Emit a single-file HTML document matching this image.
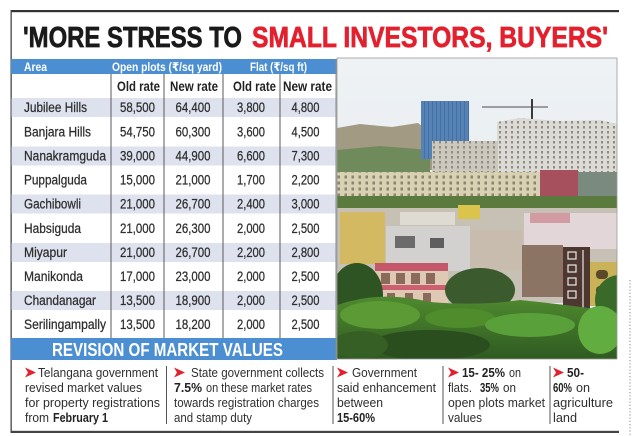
<!DOCTYPE html>
<html><head><meta charset="utf-8"><style>
html,body{margin:0;padding:0;background:#fff;}
svg{display:block;}
text{font-family:"Liberation Sans","DejaVu Sans",sans-serif;}
.t{font-weight:bold;font-size:29px;}
.hd{font-weight:bold;font-size:12px;fill:#fff;}
.sh{font-weight:bold;font-size:13.5px;fill:#222;}
.ar{font-size:13.5px;fill:#2e2e2e;stroke:#2e2e2e;stroke-width:0.25;}
.nm{font-size:13.5px;fill:#2e2e2e;text-anchor:middle;stroke:#2e2e2e;stroke-width:0.25;}
.bt{font-size:13px;fill:#2e2e2e;}
.bb{font-size:13px;fill:#222;font-weight:bold;}
</style></head><body>
<svg width="635" height="436" viewBox="0 0 635 436" xmlns="http://www.w3.org/2000/svg">
<defs>
  <linearGradient id="sky" x1="0" y1="0" x2="0" y2="1">
    <stop offset="0" stop-color="#eef2f5"/><stop offset="1" stop-color="#e2e8ec"/>
  </linearGradient>
  <linearGradient id="grass" x1="0" y1="0" x2="0" y2="1">
    <stop offset="0" stop-color="#4f8a2e"/><stop offset="1" stop-color="#2f5a22"/>
  </linearGradient>
  <pattern id="win" width="6" height="5" patternUnits="userSpaceOnUse">
    <rect width="6" height="5" fill="none"/>
    <rect x="1" y="1" width="2" height="2.5" fill="#8f8c86"/>
  </pattern>
  <pattern id="win2" width="7" height="6" patternUnits="userSpaceOnUse">
    <rect x="1.5" y="1.5" width="2.5" height="3" fill="#8a8470"/>
  </pattern>
  <pattern id="blue" width="4" height="4" patternUnits="userSpaceOnUse">
    <rect width="4" height="4" fill="#5583b7"/>
    <rect x="0" width="1" height="4" fill="#46709f"/>
  </pattern>
  <clipPath id="ph"><rect x="337" y="58" width="280" height="301"/></clipPath>
</defs>

<!-- frame -->
<rect x="11" y="10" width="608" height="2.2" fill="#333"/>
<rect x="10.5" y="10" width="1.3" height="423" fill="#444"/>
<rect x="11" y="430.8" width="608" height="2.2" fill="#444"/>
<line x1="630" y1="280" x2="630" y2="436" stroke="#8a8a8a" stroke-width="1" stroke-dasharray="1.2,2"/>

<!-- title -->
<text class="t" x="23" y="47" textLength="219" lengthAdjust="spacingAndGlyphs" fill="#1a1a1a" stroke="#1a1a1a" stroke-width="0.7">'MORE STRESS TO</text>
<text class="t" x="252" y="47" textLength="356" lengthAdjust="spacingAndGlyphs" fill="#e2202e" stroke="#e2202e" stroke-width="0.7">SMALL INVESTORS, BUYERS'</text>

<!-- table header -->
<rect x="11" y="59" width="326" height="15" fill="#4b8ed1"/>
<text class="hd" x="24" y="71" textLength="23" lengthAdjust="spacingAndGlyphs">Area</text>
<text class="hd" x="112" y="71" textLength="110" lengthAdjust="spacingAndGlyphs">Open plots (₹/sq yard)</text>
<text class="hd" x="250" y="71" textLength="57" lengthAdjust="spacingAndGlyphs">Flat (₹/sq ft)</text>

<text class="sh" x="117" y="91" textLength="43" lengthAdjust="spacingAndGlyphs">Old rate</text>
<text class="sh" x="170" y="91" textLength="48" lengthAdjust="spacingAndGlyphs">New rate</text>
<text class="sh" x="233" y="91" textLength="43" lengthAdjust="spacingAndGlyphs">Old rate</text>
<text class="sh" x="283" y="91" textLength="49" lengthAdjust="spacingAndGlyphs">New rate</text>

<!-- shaded bands -->
<rect x="11.5" y="98" width="324" height="19" fill="#dde2ee"/>
<rect x="11.5" y="146.5" width="324" height="19" fill="#dde2ee"/>
<rect x="11.5" y="194.5" width="324" height="19" fill="#dde2ee"/>
<rect x="11.5" y="243" width="324" height="19" fill="#dde2ee"/>
<rect x="11.5" y="291" width="324" height="19" fill="#dde2ee"/>

<!-- column lines -->
<g stroke="#5a5a5a" stroke-width="1">
<line x1="111" y1="74" x2="111" y2="338"/>
<line x1="164" y1="74" x2="164" y2="338"/>
<line x1="223" y1="74" x2="223" y2="338"/>
<line x1="280" y1="74" x2="280" y2="338"/>
</g>

<!-- rows -->
<text class="ar" x="24" y="112" textLength="63" lengthAdjust="spacingAndGlyphs">Jubilee Hills</text>
<text class="nm" x="137.5" y="112" textLength="35" lengthAdjust="spacingAndGlyphs">58,500</text>
<text class="nm" x="193" y="112" textLength="35" lengthAdjust="spacingAndGlyphs">64,400</text>
<text class="nm" x="251" y="112" textLength="28" lengthAdjust="spacingAndGlyphs">3,800</text>
<text class="nm" x="305.5" y="112" textLength="28" lengthAdjust="spacingAndGlyphs">4,800</text>

<text class="ar" x="24" y="136.5" textLength="67" lengthAdjust="spacingAndGlyphs">Banjara Hills</text>
<text class="nm" x="137.5" y="136.5" textLength="35" lengthAdjust="spacingAndGlyphs">54,750</text>
<text class="nm" x="193" y="136.5" textLength="35" lengthAdjust="spacingAndGlyphs">60,300</text>
<text class="nm" x="251" y="136.5" textLength="28" lengthAdjust="spacingAndGlyphs">3,600</text>
<text class="nm" x="305.5" y="136.5" textLength="28" lengthAdjust="spacingAndGlyphs">4,500</text>

<text class="ar" x="24" y="160.5" textLength="82" lengthAdjust="spacingAndGlyphs">Nanakramguda</text>
<text class="nm" x="137.5" y="160.5" textLength="35" lengthAdjust="spacingAndGlyphs">39,000</text>
<text class="nm" x="193" y="160.5" textLength="35" lengthAdjust="spacingAndGlyphs">44,900</text>
<text class="nm" x="251" y="160.5" textLength="28" lengthAdjust="spacingAndGlyphs">6,600</text>
<text class="nm" x="305.5" y="160.5" textLength="28" lengthAdjust="spacingAndGlyphs">7,300</text>

<text class="ar" x="24" y="184.5" textLength="63" lengthAdjust="spacingAndGlyphs">Puppalguda</text>
<text class="nm" x="137.5" y="184.5" textLength="35" lengthAdjust="spacingAndGlyphs">15,000</text>
<text class="nm" x="193" y="184.5" textLength="35" lengthAdjust="spacingAndGlyphs">21,000</text>
<text class="nm" x="251" y="184.5" textLength="28" lengthAdjust="spacingAndGlyphs">1,700</text>
<text class="nm" x="305.5" y="184.5" textLength="28" lengthAdjust="spacingAndGlyphs">2,200</text>

<text class="ar" x="24" y="208.5" textLength="57" lengthAdjust="spacingAndGlyphs">Gachibowli</text>
<text class="nm" x="137.5" y="208.5" textLength="35" lengthAdjust="spacingAndGlyphs">21,000</text>
<text class="nm" x="193" y="208.5" textLength="35" lengthAdjust="spacingAndGlyphs">26,700</text>
<text class="nm" x="251" y="208.5" textLength="28" lengthAdjust="spacingAndGlyphs">2,400</text>
<text class="nm" x="305.5" y="208.5" textLength="28" lengthAdjust="spacingAndGlyphs">3,000</text>

<text class="ar" x="24" y="233" textLength="57" lengthAdjust="spacingAndGlyphs">Habsiguda</text>
<text class="nm" x="137.5" y="233" textLength="35" lengthAdjust="spacingAndGlyphs">21,000</text>
<text class="nm" x="193" y="233" textLength="35" lengthAdjust="spacingAndGlyphs">26,300</text>
<text class="nm" x="251" y="233" textLength="28" lengthAdjust="spacingAndGlyphs">2,000</text>
<text class="nm" x="305.5" y="233" textLength="28" lengthAdjust="spacingAndGlyphs">2,500</text>

<text class="ar" x="24" y="257" textLength="43" lengthAdjust="spacingAndGlyphs">Miyapur</text>
<text class="nm" x="137.5" y="257" textLength="35" lengthAdjust="spacingAndGlyphs">21,000</text>
<text class="nm" x="193" y="257" textLength="35" lengthAdjust="spacingAndGlyphs">26,700</text>
<text class="nm" x="251" y="257" textLength="28" lengthAdjust="spacingAndGlyphs">2,200</text>
<text class="nm" x="305.5" y="257" textLength="28" lengthAdjust="spacingAndGlyphs">2,800</text>

<text class="ar" x="24" y="281" textLength="59" lengthAdjust="spacingAndGlyphs">Manikonda</text>
<text class="nm" x="137.5" y="281" textLength="35" lengthAdjust="spacingAndGlyphs">17,000</text>
<text class="nm" x="193" y="281" textLength="35" lengthAdjust="spacingAndGlyphs">23,000</text>
<text class="nm" x="251" y="281" textLength="28" lengthAdjust="spacingAndGlyphs">2,000</text>
<text class="nm" x="305.5" y="281" textLength="28" lengthAdjust="spacingAndGlyphs">2,500</text>

<text class="ar" x="24" y="305" textLength="72" lengthAdjust="spacingAndGlyphs">Chandanagar</text>
<text class="nm" x="137.5" y="305" textLength="35" lengthAdjust="spacingAndGlyphs">13,500</text>
<text class="nm" x="193" y="305" textLength="35" lengthAdjust="spacingAndGlyphs">18,900</text>
<text class="nm" x="251" y="305" textLength="28" lengthAdjust="spacingAndGlyphs">2,000</text>
<text class="nm" x="305.5" y="305" textLength="28" lengthAdjust="spacingAndGlyphs">2,500</text>

<text class="ar" x="24" y="329" textLength="82" lengthAdjust="spacingAndGlyphs">Serilingampally</text>
<text class="nm" x="137.5" y="329" textLength="35" lengthAdjust="spacingAndGlyphs">13,500</text>
<text class="nm" x="193" y="329" textLength="35" lengthAdjust="spacingAndGlyphs">18,200</text>
<text class="nm" x="251" y="329" textLength="28" lengthAdjust="spacingAndGlyphs">2,000</text>
<text class="nm" x="305.5" y="329" textLength="28" lengthAdjust="spacingAndGlyphs">2,500</text>

<!-- bottom blue bar -->
<rect x="11" y="338" width="326" height="22" fill="#4b8ed1"/>
<text x="52" y="356" font-size="18" font-weight="bold" fill="#fff" textLength="231" lengthAdjust="spacingAndGlyphs">REVISION OF MARKET VALUES</text>

<!-- photo -->
<g clip-path="url(#ph)">
  <rect x="337" y="58" width="280" height="301" fill="url(#sky)"/>
  <!-- hills -->
  <polygon points="337,128 360,124 392,127 418,123 440,140 440,170 337,170" fill="#a29a82"/>
  <polygon points="337,150 380,146 430,150 430,172 337,172" fill="#6f8b5c"/>
  <polygon points="590,150 617,146 617,175 590,175" fill="#6d6e66"/>
  <!-- blue tower -->
  <rect x="421" y="101" width="48" height="58" fill="url(#blue)"/>
  <!-- crane -->
  <line x1="482" y1="107" x2="548" y2="107" stroke="#4a4a4a" stroke-width="1"/>
  <line x1="532" y1="99" x2="532" y2="120" stroke="#3a3a3a" stroke-width="2"/>
  <!-- white tall block -->
  <polygon points="497,122 520,118 560,121 600,120 617,124 617,173 497,173" fill="#dcdad4"/>
  <polygon points="497,122 520,118 560,121 600,120 617,124 617,173 497,173" fill="url(#win)"/>
  <!-- mid buildings -->
  <rect x="432" y="141" width="66" height="35" fill="#cdc8be"/>
  <rect x="432" y="141" width="66" height="35" fill="url(#win)"/>
  <!-- lower cream row -->
  <rect x="337" y="172" width="206" height="27" fill="#d8d1b2"/>
  <rect x="337" y="172" width="206" height="27" fill="url(#win2)"/>
  <rect x="540" y="170" width="38" height="28" fill="#a6505d"/>
  <rect x="578" y="172" width="39" height="28" fill="#7b8a7e"/>
  <!-- green strip -->
  <rect x="337" y="196" width="280" height="16" fill="#5a7a3e"/>
  <!-- houses -->
  <rect x="337" y="208" width="280" height="95" fill="#c6c0b5"/>
  <rect x="340" y="212" width="45" height="52" fill="#d3b962"/>
  <rect x="386" y="226" width="84" height="45" fill="#d2d1cf"/>
  <rect x="395" y="236" width="20" height="12" fill="#6b6b6b"/>
  <rect x="430" y="238" width="14" height="10" fill="#5e5e5e"/>
  <rect x="458" y="205" width="22" height="14" fill="#dbc44c"/>
  <rect x="400" y="212" width="55" height="13" fill="#dedbd2"/>
  <rect x="470" y="230" width="52" height="40" fill="#c8bcae"/>
  <rect x="524" y="213" width="93" height="36" fill="#e2d6d8"/>
  <rect x="530" y="213" width="40" height="10" fill="#d29aa2"/>
  <rect x="522" y="245" width="41" height="52" fill="#8c7465"/>
  <rect x="563" y="247" width="27" height="68" fill="#4e3731"/>
  <g stroke="#e8e8e8" stroke-width="1.2" fill="none">
    <rect x="568" y="252" width="8" height="7"/><rect x="568" y="265" width="8" height="7"/>
    <rect x="568" y="278" width="8" height="7"/><rect x="568" y="291" width="8" height="7"/>
    <line x1="583" y1="250" x2="583" y2="312"/>
  </g>
  <rect x="590" y="262" width="27" height="44" fill="#c9b258"/>
  <rect x="596" y="270" width="12" height="9" rx="4" fill="#5a4a2a"/>
  <rect x="596" y="286" width="12" height="9" rx="4" fill="#5a4a2a"/>
  <!-- pink arched building -->
  <rect x="375" y="263" width="73" height="45" fill="#e0c9b4"/>
  <rect x="375" y="263" width="73" height="8" fill="#c4586a"/>
  <rect x="375" y="285" width="73" height="5" fill="#cc6070"/>
  <g fill="#8a6a5a"><rect x="381" y="273" width="9" height="11"/><rect x="396" y="273" width="9" height="11"/><rect x="411" y="273" width="9" height="11"/><rect x="426" y="273" width="9" height="11"/>
  <rect x="387" y="293" width="8" height="9"/><rect x="405" y="293" width="8" height="9"/><rect x="423" y="293" width="8" height="9"/></g>
  <!-- trees -->
  <ellipse cx="357" cy="295" rx="26" ry="32" fill="#2e5424"/>
  <ellipse cx="480" cy="290" rx="35" ry="22" fill="#3b5a2d"/>
  <ellipse cx="620" cy="300" rx="25" ry="25" fill="#3a6a2a"/>
  <!-- foreground green -->
  <path d="M337,305 Q380,290 430,302 Q480,306 520,300 Q570,305 617,312 L617,359 L337,359 Z" fill="url(#grass)"/>
  <ellipse cx="380" cy="315" rx="40" ry="14" fill="#5c9a35"/>
  <ellipse cx="460" cy="318" rx="35" ry="10" fill="#4e8c2c"/>
  <ellipse cx="530" cy="325" rx="45" ry="12" fill="#5aa03a"/>
  <ellipse cx="430" cy="345" rx="60" ry="15" fill="#2a4e1e"/>
  <ellipse cx="600" cy="330" rx="22" ry="24" fill="#62ad40"/>
  <ellipse cx="360" cy="345" rx="28" ry="14" fill="#365f26"/>
</g>
<rect x="337" y="58" width="280" height="301" fill="none" stroke="#999" stroke-width="0.8"/>
<line x1="336" y1="59" x2="336" y2="360" stroke="#8a8a8a" stroke-width="1"/>

<!-- bottom text -->
<g fill="#e2202e">
  <polygon points="25,367.5 36,372.5 25,377.5 28,372.5"/>
  <polygon points="174,367.5 185,372.5 174,377.5 177,372.5"/>
  <polygon points="337,367.5 348,372.5 337,377.5 340,372.5"/>
  <polygon points="448,367.5 459,372.5 448,377.5 451,372.5"/>
  <polygon points="553,367.5 564,372.5 553,377.5 556,372.5"/>
</g>
<g stroke="#555" stroke-width="1">
  <line x1="166.5" y1="366" x2="166.5" y2="424"/>
  <line x1="333" y1="366" x2="333" y2="424"/>
  <line x1="443" y1="366" x2="443" y2="424"/>
  <line x1="550" y1="366" x2="550" y2="424"/>
</g>

<text class="bt" x="38" y="377" textLength="120" lengthAdjust="spacingAndGlyphs">Telangana government</text>
<text class="bt" x="25" y="392" textLength="117" lengthAdjust="spacingAndGlyphs">revised market values</text>
<text class="bt" x="25" y="407" textLength="135" lengthAdjust="spacingAndGlyphs">for property registrations</text>
<text class="bt" x="25" y="422" textLength="24" lengthAdjust="spacingAndGlyphs">from</text>
<text class="bb" x="53" y="422" textLength="55" lengthAdjust="spacingAndGlyphs">February 1</text>

<text class="bt" x="191" y="377" textLength="133" lengthAdjust="spacingAndGlyphs">State government collects</text>
<text class="bb" x="174" y="392" textLength="28" lengthAdjust="spacingAndGlyphs">7.5%</text>
<text class="bt" x="206" y="392" textLength="106" lengthAdjust="spacingAndGlyphs">on these market rates</text>
<text class="bt" x="174" y="407" textLength="145" lengthAdjust="spacingAndGlyphs">towards registration charges</text>
<text class="bt" x="174" y="422" textLength="78" lengthAdjust="spacingAndGlyphs">and stamp duty</text>

<text class="bt" x="352" y="377" textLength="65" lengthAdjust="spacingAndGlyphs">Government</text>
<text class="bt" x="337" y="392" textLength="99" lengthAdjust="spacingAndGlyphs">said enhancement</text>
<text class="bt" x="337" y="407" textLength="46" lengthAdjust="spacingAndGlyphs">between</text>
<text class="bb" x="337" y="422" textLength="38" lengthAdjust="spacingAndGlyphs">15-60%</text>

<text class="bb" x="462" y="377" textLength="43" lengthAdjust="spacingAndGlyphs">15- 25%</text>
<text class="bt" x="509" y="377" textLength="12" lengthAdjust="spacingAndGlyphs">on</text>
<text class="bt" x="448" y="392" textLength="24" lengthAdjust="spacingAndGlyphs">flats.</text>
<text class="bb" x="480" y="392" textLength="19" lengthAdjust="spacingAndGlyphs">35%</text>
<text class="bt" x="503" y="392" textLength="13" lengthAdjust="spacingAndGlyphs">on</text>
<text class="bt" x="448" y="407" textLength="97" lengthAdjust="spacingAndGlyphs">open plots market</text>
<text class="bt" x="448" y="422" textLength="34" lengthAdjust="spacingAndGlyphs">values</text>

<text class="bb" x="567" y="377" textLength="17" lengthAdjust="spacingAndGlyphs">50-</text>
<text class="bb" x="553" y="392" textLength="19" lengthAdjust="spacingAndGlyphs">60%</text>
<text class="bt" x="576" y="392" textLength="14" lengthAdjust="spacingAndGlyphs">on</text>
<text class="bt" x="553" y="407" textLength="60" lengthAdjust="spacingAndGlyphs">agriculture</text>
<text class="bt" x="553" y="422" textLength="24" lengthAdjust="spacingAndGlyphs">land</text>
</svg>
</body></html>
